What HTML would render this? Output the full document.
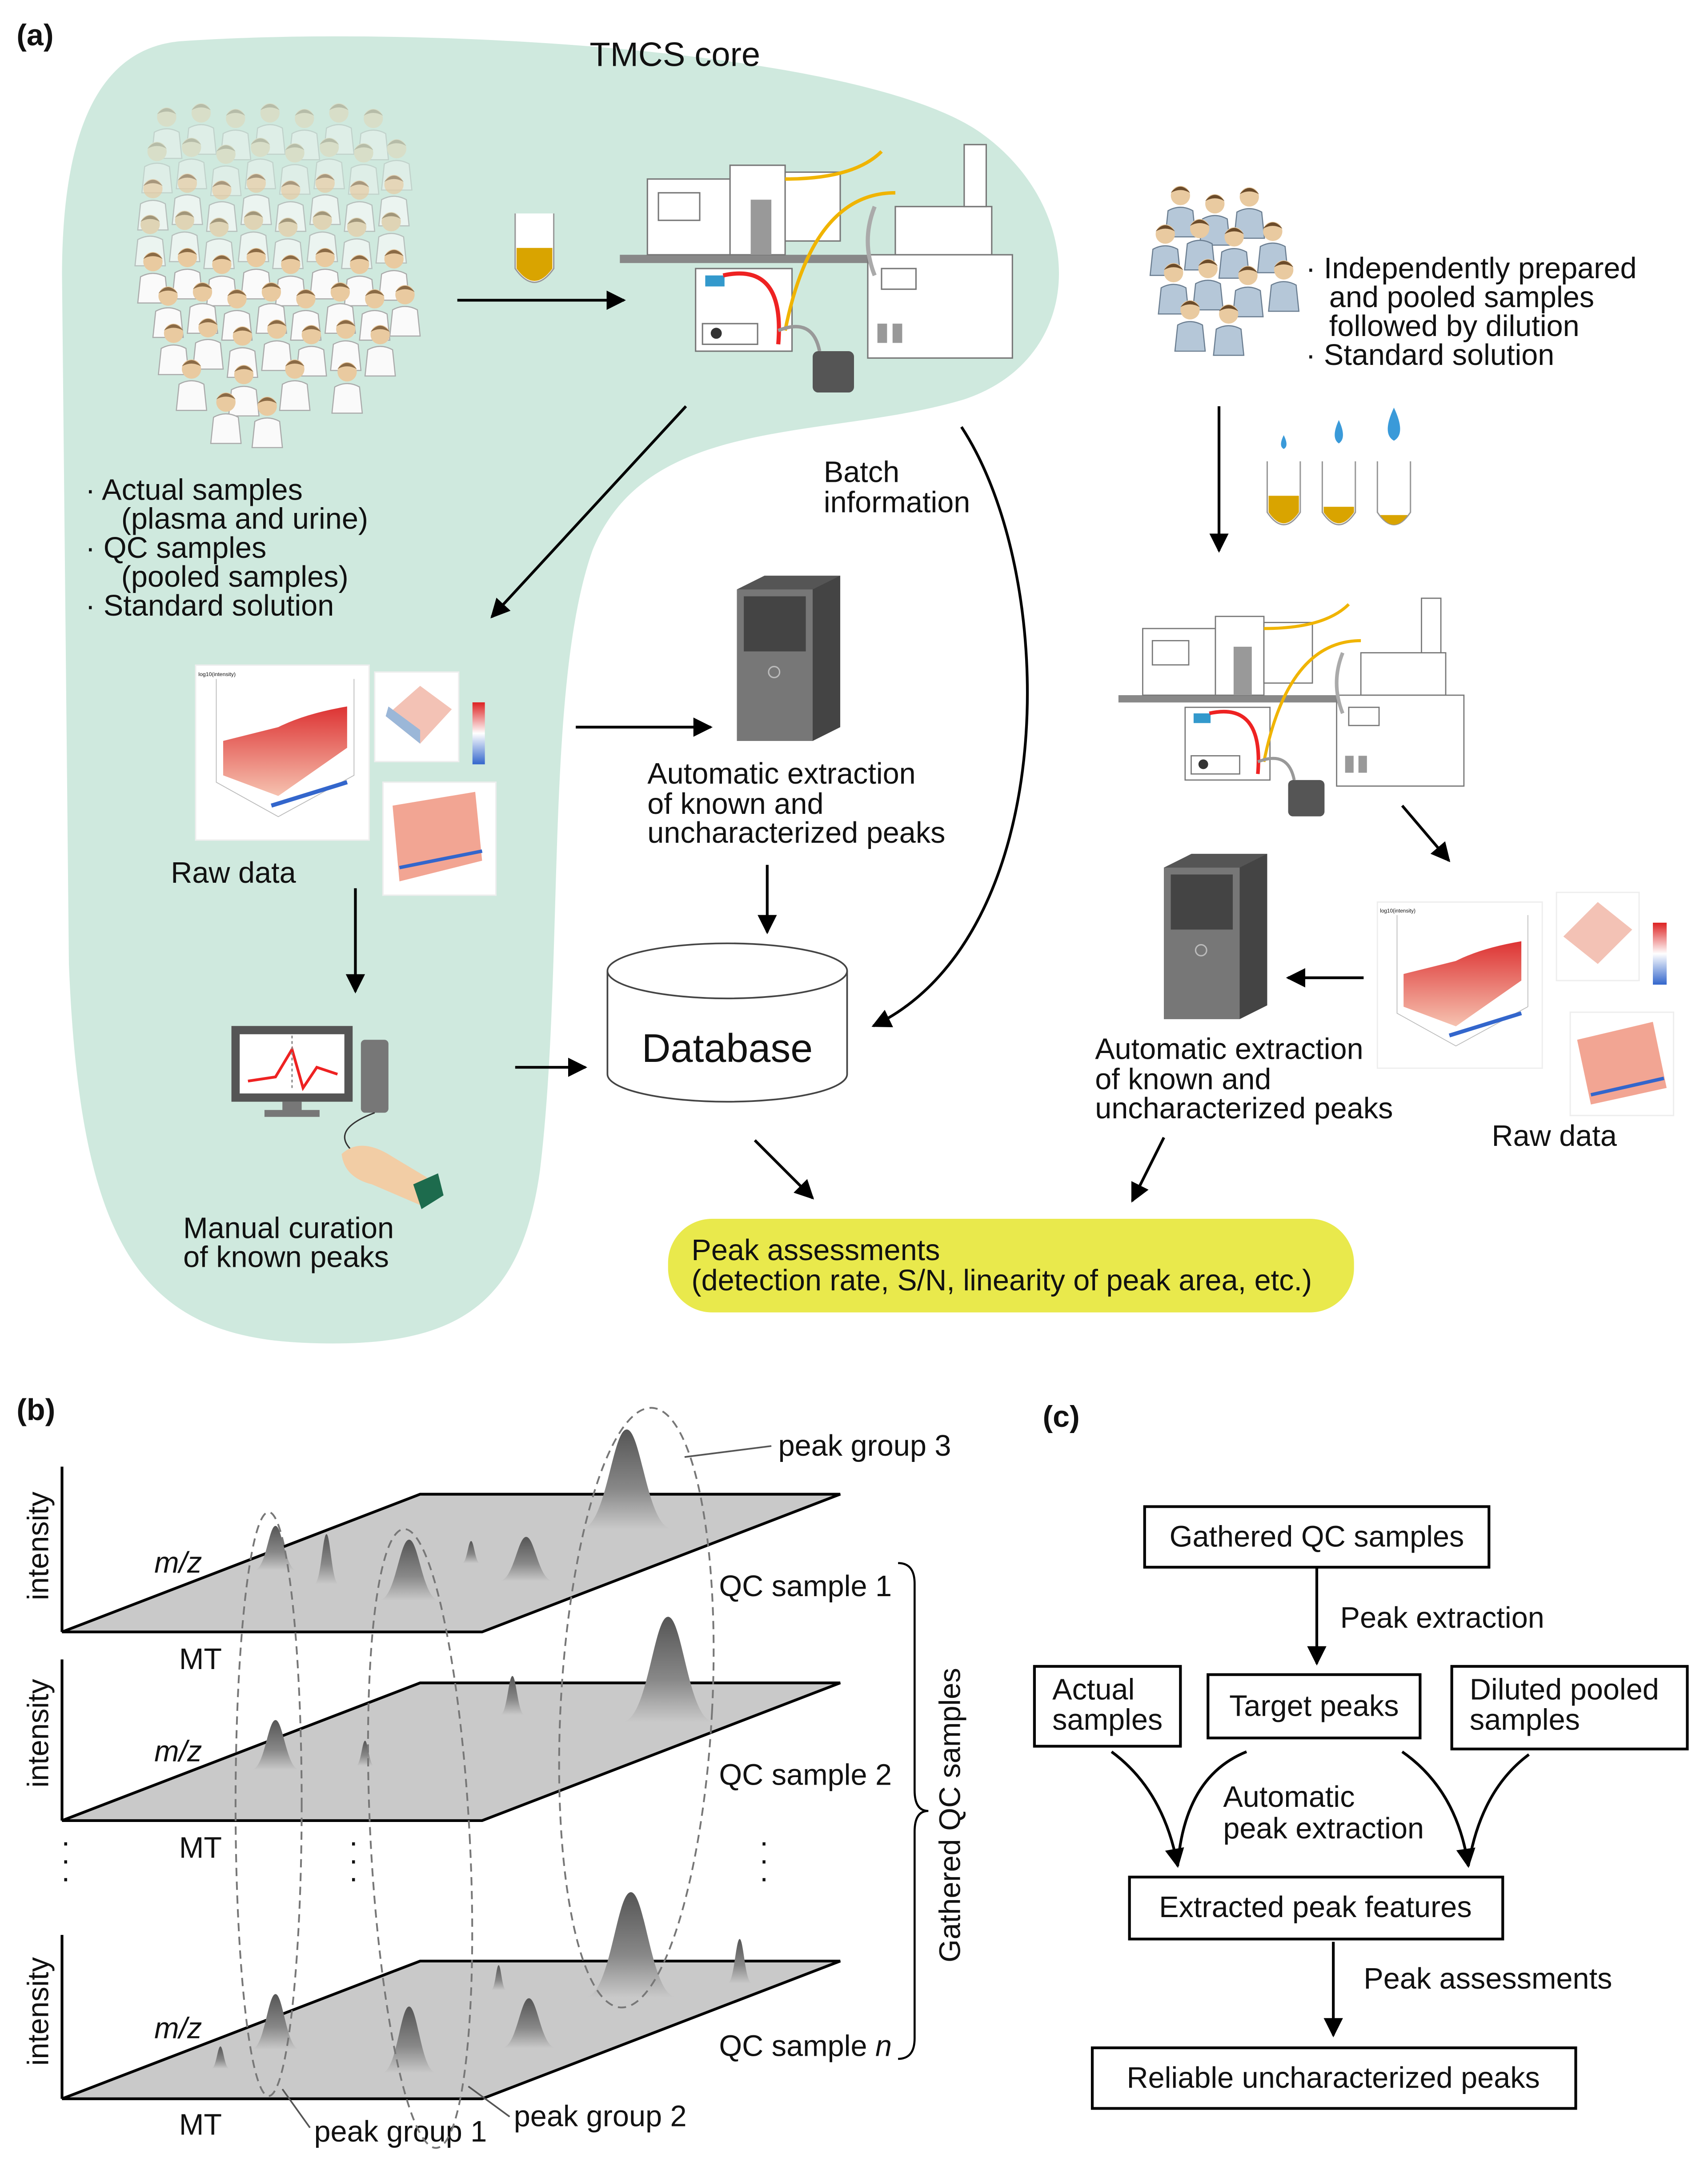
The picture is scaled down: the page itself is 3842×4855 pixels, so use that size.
<!DOCTYPE html>
<html><head><meta charset="utf-8"><style>
html,body{margin:0;padding:0;background:#fff}
svg{display:block}
text{font-family:"Liberation Sans",Arial,sans-serif;fill:#111}
</style></head><body>
<svg width="3842" height="4855" viewBox="0 0 1240 1567" xmlns="http://www.w3.org/2000/svg">
<defs>
<marker id="ah2" viewBox="0 0 10 10" refX="9" refY="5" markerWidth="14" markerHeight="14" orient="auto" markerUnits="userSpaceOnUse"><path d="M0,0 L10,5 L0,10 Z" fill="#000"/></marker>
<linearGradient id="pk" x1="0" y1="0" x2="0" y2="1"><stop offset="0" stop-color="#555"/><stop offset="0.6" stop-color="#888"/><stop offset="1" stop-color="#c8c8c8"/></linearGradient>
<linearGradient id="rd" x1="0" y1="0" x2="0" y2="1"><stop offset="0" stop-color="#d33"/><stop offset="1" stop-color="#f6c2b0"/></linearGradient>
<linearGradient id="cb" x1="0" y1="0" x2="0" y2="1"><stop offset="0" stop-color="#d22"/><stop offset="0.5" stop-color="#fff"/><stop offset="1" stop-color="#36c"/></linearGradient>
<symbol id="pw" viewBox="-14 -10 28 42" overflow="visible"><circle cx="0" cy="0" r="7" fill="#e9caa0"/><path d="M-7,-2 Q0,-11 7,-2 Q0,-6 -7,-2Z" fill="#8a6a45"/><path d="M-11,30 L-9,11 Q0,6 9,11 L11,30 Z" fill="#fafafa" stroke="#aaa" stroke-width="0.8"/></symbol>
<symbol id="pb" viewBox="-14 -10 28 42" overflow="visible"><circle cx="0" cy="0" r="7" fill="#e9caa0"/><path d="M-7,-2 Q0,-11 7,-2 Q0,-6 -7,-2Z" fill="#6b4b2a"/><path d="M-11,30 L-9,11 Q0,6 9,11 L11,30 Z" fill="#b5c7d8" stroke="#6a7d90" stroke-width="0.8"/></symbol>
<path id="peak" d="M-22,0 C-10,0 -7,-40 0,-40 C7,-40 10,0 22,0 Z" fill="url(#pk)"/>
<g id="instr">
 <rect x="0" y="85" width="285" height="6" fill="#888"/>
 <rect x="20" y="30" width="60" height="55" fill="#fff" stroke="#777"/>
 <rect x="28" y="40" width="30" height="20" fill="#fff" stroke="#777"/>
 <rect x="80" y="20" width="40" height="65" fill="#fff" stroke="#777"/>
 <rect x="95" y="45" width="15" height="40" fill="#999"/>
 <rect x="120" y="25" width="40" height="50" fill="#fff" stroke="#777"/>
 <rect x="55" y="95" width="70" height="60" fill="#fff" stroke="#777"/>
 <rect x="60" y="135" width="40" height="15" fill="#fff" stroke="#777"/><circle cx="70" cy="142" r="4" fill="#333"/>
 <rect x="62" y="100" width="14" height="8" fill="#39c"/>
 <path d="M75,100 Q120,90 115,150" stroke="#e22" stroke-width="3" fill="none"/>
 <path d="M120,30 Q170,30 190,10" stroke="#f0b400" stroke-width="2.5" fill="none"/>
 <path d="M120,140 Q140,40 200,40" stroke="#f0b400" stroke-width="2.5" fill="none"/>
 <rect x="200" y="50" width="70" height="35" fill="#fff" stroke="#777"/>
 <rect x="250" y="5" width="16" height="45" fill="#fff" stroke="#777"/>
 <rect x="180" y="85" width="105" height="75" fill="#fff" stroke="#777"/>
 <rect x="190" y="95" width="25" height="15" fill="#fff" stroke="#777"/>
 <rect x="187" y="135" width="7" height="14" fill="#999"/><rect x="198" y="135" width="7" height="14" fill="#999"/>
 <path d="M115,140 Q140,130 145,155" stroke="#999" stroke-width="2.5" fill="none"/>
 <rect x="140" y="155" width="30" height="30" rx="4" fill="#555"/>
 <path d="M185,50 Q175,75 185,100" stroke="#aaa" stroke-width="3" fill="none"/>
</g>
<g id="server">
 <path d="M0,10 L20,0 L75,0 L75,110 L55,120 L0,120 Z" fill="#555"/>
 <rect x="0" y="10" width="55" height="110" fill="#777"/>
 <rect x="5" y="15" width="45" height="40" fill="#444"/>
 <circle cx="27" cy="70" r="4" fill="none" stroke="#bbb"/>
 <path d="M55,10 L75,0 L75,110 L55,120Z" fill="#444"/>
</g>
<g id="raw">
 <rect x="0" y="0" width="126" height="127" fill="#fff" stroke="#eee"/>
 <path d="M15,10 L15,85 L60,110 L115,80 L115,10" fill="none" stroke="#bbb" stroke-width="0.6"/>
 <path d="M20,80 L60,95 L110,60 L110,30 Q80,35 60,45 Q40,50 20,55Z" fill="url(#rd)"/>
 <path d="M55,102 L110,85" stroke="#36c" stroke-width="3"/>
 <text x="2" y="8" font-size="4">log10(intensity)</text>
</g>
</defs>

<text x="12" y="33" font-size="22" font-weight="bold">(a)</text>
<path d="M130,30 C300,18 620,35 710,95 C790,150 790,260 700,290 C600,320 470,300 430,400 C395,500 410,700 392,850 C378,950 330,980 220,975 C100,970 58,900 50,700 L45,200 C45,80 80,35 130,30 Z" fill="#cfe9de"/>
<text x="490" y="48" font-size="24.5" text-anchor="middle">TMCS core</text>

<g opacity="0.35">
<use href="#pw" x="107" y="75" width="28" height="42"/><use href="#pw" x="132" y="72" width="28" height="42"/><use href="#pw" x="157" y="76" width="28" height="42"/><use href="#pw" x="182" y="72" width="28" height="42"/><use href="#pw" x="207" y="76" width="28" height="42"/><use href="#pw" x="232" y="72" width="28" height="42"/><use href="#pw" x="257" y="76" width="28" height="42"/>
<use href="#pw" x="100" y="100" width="28" height="42"/><use href="#pw" x="125" y="97" width="28" height="42"/><use href="#pw" x="150" y="102" width="28" height="42"/><use href="#pw" x="175" y="97" width="28" height="42"/><use href="#pw" x="200" y="101" width="28" height="42"/><use href="#pw" x="225" y="97" width="28" height="42"/><use href="#pw" x="250" y="101" width="28" height="42"/><use href="#pw" x="274" y="98" width="28" height="42"/>
</g>
<g opacity="0.65">
<use href="#pw" x="97" y="127" width="28" height="42"/><use href="#pw" x="122" y="123" width="28" height="42"/><use href="#pw" x="147" y="128" width="28" height="42"/><use href="#pw" x="172" y="123" width="28" height="42"/><use href="#pw" x="197" y="128" width="28" height="42"/><use href="#pw" x="222" y="123" width="28" height="42"/><use href="#pw" x="247" y="128" width="28" height="42"/><use href="#pw" x="272" y="124" width="28" height="42"/>
<use href="#pw" x="95" y="153" width="28" height="42"/><use href="#pw" x="120" y="150" width="28" height="42"/><use href="#pw" x="145" y="155" width="28" height="42"/><use href="#pw" x="170" y="150" width="28" height="42"/><use href="#pw" x="195" y="155" width="28" height="42"/><use href="#pw" x="220" y="150" width="28" height="42"/><use href="#pw" x="245" y="155" width="28" height="42"/><use href="#pw" x="270" y="151" width="28" height="42"/>
</g>
<g>
<use href="#pw" x="97" y="180" width="28" height="42"/><use href="#pw" x="122" y="177" width="28" height="42"/><use href="#pw" x="147" y="182" width="28" height="42"/><use href="#pw" x="172" y="177" width="28" height="42"/><use href="#pw" x="197" y="182" width="28" height="42"/><use href="#pw" x="222" y="177" width="28" height="42"/><use href="#pw" x="247" y="182" width="28" height="42"/><use href="#pw" x="272" y="178" width="28" height="42"/>
<use href="#pw" x="108" y="205" width="28" height="42"/><use href="#pw" x="133" y="202" width="28" height="42"/><use href="#pw" x="158" y="207" width="28" height="42"/><use href="#pw" x="183" y="202" width="28" height="42"/><use href="#pw" x="208" y="207" width="28" height="42"/><use href="#pw" x="233" y="202" width="28" height="42"/><use href="#pw" x="258" y="207" width="28" height="42"/><use href="#pw" x="280" y="204" width="28" height="42"/>
<use href="#pw" x="112" y="232" width="28" height="42"/><use href="#pw" x="137" y="228" width="28" height="42"/><use href="#pw" x="162" y="234" width="28" height="42"/><use href="#pw" x="187" y="229" width="28" height="42"/><use href="#pw" x="212" y="233" width="28" height="42"/><use href="#pw" x="237" y="229" width="28" height="42"/><use href="#pw" x="262" y="233" width="28" height="42"/>
<use href="#pw" x="125" y="258" width="28" height="42"/><use href="#pw" x="163" y="262" width="28" height="42"/><use href="#pw" x="200" y="258" width="28" height="42"/><use href="#pw" x="238" y="260" width="28" height="42"/>
<use href="#pw" x="150" y="282" width="28" height="42"/><use href="#pw" x="180" y="285" width="28" height="42"/>
</g>
<g font-size="21.5">
<text x="62" y="363">· Actual samples</text>
<text x="88" y="384">(plasma and urine)</text>
<text x="62" y="405">· QC samples</text>
<text x="88" y="426">(pooled samples)</text>
<text x="62" y="447">· Standard solution</text>
</g>
<path d="M374,155 L374,195 Q388,215 402,195 L402,155" fill="#fff" stroke="#999"/>
<path d="M375,180 L375,195 Q388,213 401,195 L401,180Z" fill="#d9a400"/>
<line x1="332" y1="218" x2="453" y2="218" stroke="#000" stroke-width="2" marker-end="url(#ah2)"/>
<use href="#instr" transform="translate(450,100)"/>
<line x1="498" y1="295" x2="357" y2="448" stroke="#000" stroke-width="2" marker-end="url(#ah2)"/>
<use href="#raw" transform="translate(142,483)"/>
<rect x="272" y="488" width="61" height="65" fill="#fff" stroke="#eee"/>
<path d="M280,520 L305,540 L328,515 L305,498Z" fill="#f3c2b5"/><path d="M280,520 L305,540 L305,530 L282,513Z" fill="#9bb7d8"/>
<rect x="343" y="510" width="9" height="45" fill="url(#cb)"/>
<rect x="278" y="568" width="82" height="82" fill="#fff" stroke="#eee"/>
<path d="M285,585 L345,575 L350,625 L290,640Z" fill="#f2a593"/><path d="M290,630 L350,618" stroke="#36c" stroke-width="2.5"/>
<text x="124" y="641" font-size="21.5">Raw data</text>
<line x1="258" y1="645" x2="258" y2="720" stroke="#000" stroke-width="2" marker-end="url(#ah2)"/>
<rect x="168" y="745" width="88" height="55" fill="#555"/><rect x="174" y="751" width="76" height="43" fill="#fff"/>
<path d="M180,785 L200,782 L212,762 L220,790 L230,775 L245,780" stroke="#e22" stroke-width="2" fill="none"/>
<line x1="212" y1="752" x2="212" y2="792" stroke="#888" stroke-dasharray="2,2"/>
<rect x="205" y="800" width="14" height="8" fill="#777"/><rect x="192" y="806" width="40" height="5" fill="#777"/>
<rect x="262" y="755" width="20" height="53" rx="3" fill="#777"/>
<path d="M272,808 Q240,820 255,835" stroke="#333" fill="none"/>
<path d="M248,838 Q262,825 285,840 L310,855 L305,875 L270,860 Q250,855 248,838Z" fill="#f2cda5"/>
<path d="M300,860 L318,852 L322,868 L306,878Z" fill="#1d6b4d"/>
<text x="133" y="899" font-size="21.5">Manual curation</text>
<text x="133" y="920" font-size="21.5">of known peaks</text>

<text x="598" y="350" font-size="21.5">Batch</text>
<text x="598" y="372" font-size="21.5">information</text>
<use href="#server" transform="translate(535,418)"/>
<line x1="418" y1="528" x2="516" y2="528" stroke="#000" stroke-width="2" marker-end="url(#ah2)"/>
<g font-size="21.5"><text x="470" y="569">Automatic extraction</text><text x="470" y="591">of known and</text><text x="470" y="612">uncharacterized peaks</text></g>
<line x1="557" y1="628" x2="557" y2="677" stroke="#000" stroke-width="2" marker-end="url(#ah2)"/>
<path d="M441,705 L441,780 A87,20 0 0 0 615,780 L615,705" fill="#fff" stroke="#444" stroke-width="1.2"/>
<ellipse cx="528" cy="705" rx="87" ry="20" fill="#fff" stroke="#444" stroke-width="1.2"/>
<text x="528" y="771" font-size="29" text-anchor="middle">Database</text>
<line x1="374" y1="775" x2="425" y2="775" stroke="#000" stroke-width="2" marker-end="url(#ah2)"/>
<path d="M698,310 C770,420 770,680 634,745" stroke="#000" stroke-width="2" fill="none" marker-end="url(#ah2)"/>
<line x1="548" y1="828" x2="590" y2="870" stroke="#000" stroke-width="2" marker-end="url(#ah2)"/>
<line x1="845" y1="826" x2="822" y2="872" stroke="#000" stroke-width="2" marker-end="url(#ah2)"/>
<rect x="485" y="885" width="498" height="68" rx="32" fill="#e9e94c"/>
<text x="502" y="915" font-size="21.5">Peak assessments</text>
<text x="502" y="937" font-size="21.5">(detection rate, S/N, linearity of peak area, etc.)</text>

<use href="#pb" x="843" y="132" width="28" height="42"/><use href="#pb" x="868" y="138" width="28" height="42"/><use href="#pb" x="893" y="133" width="28" height="42"/>
<use href="#pb" x="832" y="160" width="28" height="42"/><use href="#pb" x="857" y="156" width="28" height="42"/><use href="#pb" x="882" y="162" width="28" height="42"/><use href="#pb" x="910" y="158" width="28" height="42"/>
<use href="#pb" x="838" y="188" width="28" height="42"/><use href="#pb" x="863" y="185" width="28" height="42"/><use href="#pb" x="892" y="190" width="28" height="42"/><use href="#pb" x="918" y="186" width="28" height="42"/>
<use href="#pb" x="850" y="215" width="28" height="42"/><use href="#pb" x="878" y="218" width="28" height="42"/>
<g font-size="21.5">
<text x="948" y="202">· Independently prepared</text>
<text x="965" y="223">and pooled samples</text>
<text x="965" y="244">followed by dilution</text>
<text x="948" y="265">· Standard solution</text>
</g>
<line x1="885" y1="295" x2="885" y2="400" stroke="#000" stroke-width="2" marker-end="url(#ah2)"/>
<g>
<path d="M920,335 L920,372 Q932,390 944,372 L944,335" fill="#fff" stroke="#999"/><path d="M921,360 L921,372 Q932,388 943,372 L943,360Z" fill="#d9a400"/>
<path d="M960,335 L960,372 Q972,390 984,372 L984,335" fill="#fff" stroke="#999"/><path d="M961,368 L961,372 Q972,388 983,372 L983,368Z" fill="#d9a400"/>
<path d="M1000,335 L1000,372 Q1012,390 1024,372 L1024,335" fill="#fff" stroke="#999"/><path d="M1002,374 Q1012,388 1022,374Z" fill="#d9a400"/>
<path d="M932,316 Q928,324 932,326 Q936,324 932,316Z" fill="#3a9ad9"/>
<path d="M972,305 Q966,318 972,322 Q978,318 972,305Z" fill="#3a9ad9"/>
<path d="M1012,296 Q1003,315 1012,320 Q1021,315 1012,296Z" fill="#3a9ad9"/>
</g>
<use href="#instr" transform="translate(812,430) scale(0.88)"/>
<line x1="1018" y1="585" x2="1052" y2="625" stroke="#000" stroke-width="2" marker-end="url(#ah2)"/>
<use href="#server" transform="translate(845,620)"/>
<line x1="990" y1="710" x2="935" y2="710" stroke="#000" stroke-width="2" marker-end="url(#ah2)"/>
<use href="#raw" transform="translate(1000,655) scale(0.95)"/>
<rect x="1130" y="648" width="60" height="64" fill="#fff" stroke="#eee"/>
<path d="M1135,680 L1160,700 L1185,675 L1160,655Z" fill="#f3c2b5"/>
<rect x="1200" y="670" width="10" height="45" fill="url(#cb)"/>
<rect x="1140" y="735" width="75" height="75" fill="#fff" stroke="#eee"/>
<path d="M1145,755 L1200,742 L1210,790 L1155,802Z" fill="#f2a593"/><path d="M1155,795 L1208,783" stroke="#36c" stroke-width="2.5"/>
<g font-size="21.5"><text x="795" y="769">Automatic extraction</text><text x="795" y="791">of known and</text><text x="795" y="812">uncharacterized peaks</text></g>
<text x="1083" y="832" font-size="21.5">Raw data</text>

<text x="12" y="1031" font-size="22" font-weight="bold">(b)</text>
<g stroke="#000" stroke-width="2">
<polygon points="45,1185 350,1185 610,1085 305,1085" fill="#c9c9c9"/>
<polygon points="45,1322 350,1322 610,1222 305,1222" fill="#c9c9c9"/>
<polygon points="45,1524 350,1524 610,1424 305,1424" fill="#c9c9c9"/>
<line x1="45" y1="1065" x2="45" y2="1185"/><line x1="45" y1="1205" x2="45" y2="1322"/><line x1="45" y1="1405" x2="45" y2="1524"/>
</g>
<g font-size="21.5">
<text transform="translate(35,1162) rotate(-90)">intensity</text>
<text transform="translate(35,1298) rotate(-90)">intensity</text>
<text transform="translate(35,1500) rotate(-90)">intensity</text>
<text x="112" y="1142" font-style="italic">m/z</text><text x="112" y="1279" font-style="italic">m/z</text><text x="112" y="1480" font-style="italic">m/z</text>
<text x="130" y="1212">MT</text><text x="130" y="1349">MT</text><text x="130" y="1550">MT</text>
<text x="522" y="1159">QC sample 1</text><text x="522" y="1296">QC sample 2</text>
<text x="522" y="1493">QC sample <tspan font-style="italic">n</tspan></text>
<text x="565" y="1057">peak group 3</text>
<text x="228" y="1555">peak group 1</text>
<text x="373" y="1544">peak group 2</text>
<text transform="translate(697,1425) rotate(-90)">Gathered QC samples</text>
</g>
<use href="#peak" transform="translate(200,1140) scale(0.7,0.8)"/>
<use href="#peak" transform="translate(237,1150) scale(0.4,0.9)"/>
<use href="#peak" transform="translate(297,1162) scale(1,1.1)"/>
<use href="#peak" transform="translate(342,1135) scale(0.3,0.4)"/>
<use href="#peak" transform="translate(382,1148) scale(0.9,0.8)"/>
<use href="#peak" transform="translate(455,1110) scale(1.5,1.8)"/>
<use href="#peak" transform="translate(200,1285) scale(0.8,0.9)"/>
<use href="#peak" transform="translate(265,1282) scale(0.3,0.45)"/>
<use href="#peak" transform="translate(372,1245) scale(0.4,0.7)"/>
<use href="#peak" transform="translate(485,1250) scale(1.5,1.9)"/>
<use href="#peak" transform="translate(160,1502) scale(0.3,0.4)"/>
<use href="#peak" transform="translate(200,1488) scale(0.8,1)"/>
<use href="#peak" transform="translate(297,1505) scale(0.9,1.2)"/>
<use href="#peak" transform="translate(362,1445) scale(0.25,0.45)"/>
<use href="#peak" transform="translate(384,1487) scale(0.9,0.9)"/>
<use href="#peak" transform="translate(458,1450) scale(1.5,1.9)"/>
<use href="#peak" transform="translate(537,1440) scale(0.4,0.8)"/>
<g fill="none" stroke="#777" stroke-width="1.3" stroke-dasharray="6,4">
<ellipse cx="195" cy="1310" rx="24" ry="212"/>
<ellipse cx="305" cy="1335" rx="36" ry="225" transform="rotate(-3 305 1335)"/>
<ellipse cx="462" cy="1240" rx="55" ry="218" transform="rotate(3 462 1240)"/>
</g>
<g stroke="#555" stroke-width="1.2" fill="none">
<line x1="497" y1="1058" x2="560" y2="1050"/>
<path d="M205,1517 L225,1545"/><path d="M340,1515 L370,1537"/>
</g>
<g font-size="22" fill="#000">
<text x="44" y="1345">·</text><text x="44" y="1358">·</text><text x="44" y="1371">·</text>
<text x="253" y="1345">·</text><text x="253" y="1358">·</text><text x="253" y="1371">·</text>
<text x="551" y="1345">·</text><text x="551" y="1358">·</text><text x="551" y="1371">·</text>
</g>
<path d="M652,1135 Q664,1135 664,1150 L664,1300 Q664,1315 674,1315 Q664,1315 664,1330 L664,1480 Q664,1495 652,1495" fill="none" stroke="#000" stroke-width="1.5"/>

<text x="757" y="1036" font-size="22" font-weight="bold">(c)</text>
<g fill="#fff" stroke="#000" stroke-width="2">
<rect x="831" y="1094" width="250" height="44"/>
<rect x="751" y="1210" width="106" height="58"/>
<rect x="877" y="1216" width="154" height="46"/>
<rect x="1054" y="1210" width="171" height="60"/>
<rect x="820" y="1363" width="271" height="45"/>
<rect x="793" y="1487" width="351" height="44"/>
</g>
<g font-size="21.5">
<text x="956" y="1123" text-anchor="middle">Gathered QC samples</text>
<text x="973" y="1182">Peak extraction</text>
<text x="764" y="1234">Actual</text><text x="764" y="1256">samples</text>
<text x="954" y="1246" text-anchor="middle">Target peaks</text>
<text x="1067" y="1234">Diluted pooled</text><text x="1067" y="1256">samples</text>
<text x="888" y="1312">Automatic</text><text x="888" y="1335">peak extraction</text>
<text x="955" y="1392" text-anchor="middle">Extracted peak features</text>
<text x="990" y="1444">Peak assessments</text>
<text x="968" y="1516" text-anchor="middle">Reliable uncharacterized peaks</text>
</g>
<g stroke="#000" stroke-width="2" fill="none">
<line x1="956" y1="1138" x2="956" y2="1208" marker-end="url(#ah2)"/>
<path d="M807,1272 Q845,1300 855,1355" marker-end="url(#ah2)"/>
<path d="M905,1272 Q860,1290 855,1355"/>
<path d="M1018,1272 Q1058,1300 1066,1355" marker-end="url(#ah2)"/>
<path d="M1110,1274 Q1075,1300 1066,1355"/>
<line x1="968" y1="1410" x2="968" y2="1478" marker-end="url(#ah2)"/>
</g>
</svg>
</body></html>
